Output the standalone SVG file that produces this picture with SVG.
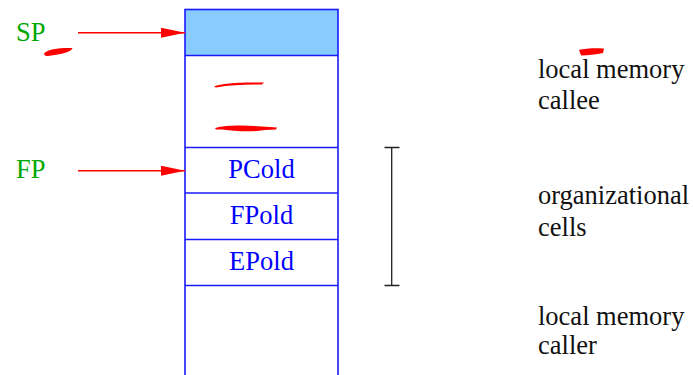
<svg xmlns="http://www.w3.org/2000/svg" width="693" height="375" viewBox="0 0 693 375">
<style>
text{font-family:"Liberation Serif","Times New Roman",serif;font-size:26.5px}
.cell{fill:none;stroke:#1a1aff;stroke-width:1.6}
.lbl{fill:#0000ff;text-anchor:middle}
.ptr{fill:#00a800}
.note{fill:#111}
.arr{stroke:#ff0000;stroke-width:1.6;fill:none}
.mark{fill:#ff0000}
</style>
<defs>
<marker id="ah" markerWidth="24" markerHeight="10" refX="24" refY="5" orient="auto" markerUnits="userSpaceOnUse">
<path d="M0,0 L24,5 L0,10 Z" fill="#ff0000"/>
</marker>
</defs>
<g id="stack">
<rect x="185" y="9.5" width="153" height="46" fill="#87cbff" stroke="none"/>
<rect class="cell" x="185" y="9.5" width="153" height="380"/>
<line class="cell" x1="185" y1="55.5" x2="338" y2="55.5"/>
<line class="cell" x1="185" y1="147.5" x2="338" y2="147.5"/>
<line class="cell" x1="185" y1="193" x2="338" y2="193"/>
<line class="cell" x1="185" y1="239.5" x2="338" y2="239.5"/>
<line class="cell" x1="185" y1="285.5" x2="338" y2="285.5"/>
</g>
<g id="pcold"><text class="lbl" x="261.5" y="178">PCold</text></g>
<g id="fpold"><text class="lbl" x="261.5" y="224">FPold</text></g>
<g id="epold"><text class="lbl" x="261.5" y="270">EPold</text></g>
<g id="sp"><text class="ptr" x="16" y="40.5">SP</text></g>
<g id="fp"><text class="ptr" x="16" y="178">FP</text></g>
<g id="connectors">
<line class="arr" x1="78" y1="32.7" x2="185" y2="32.7" marker-end="url(#ah)"/>
<line class="arr" x1="78" y1="170.7" x2="185" y2="170.7" marker-end="url(#ah)"/>
<path d="M391.7,147.5 V285.5 M384.5,147.5 H399.5 M384.5,285.5 H399.5" stroke="#222" stroke-width="1.3" fill="none"/>
</g>
<g id="notes">
<text class="note" x="538" y="78">local memory</text>
<text class="note" x="538" y="109">callee</text>
<text class="note" x="538" y="204">organizational</text>
<text class="note" x="538" y="236">cells</text>
<text class="note" x="538" y="325">local memory</text>
<text class="note" x="538" y="354">caller</text>
</g>
<g id="marks">
<path class="mark" d="M44.5,53 C47,49.5 60,47.5 72.5,48 C72,51.5 62,54.5 48,56 C44.5,56 43.5,54.5 44.5,53 Z"/>
<path class="mark" d="M214,86.5 C222,83 240,82 264,82.5 L262,84.5 C245,84.5 230,85 216,87.5 Z"/>
<path class="mark" d="M215,128 C225,125 245,125 262,126.5 L277,127.5 L276,129.5 L265,130 C250,132.5 235,131 222,129.5 L216,129.5 Z"/>
<path class="mark" d="M579,50 C585,48 598,48 604,48.5 L603,53 C596,54.5 588,55.5 581,55.5 Z"/>
</g>
</svg>
